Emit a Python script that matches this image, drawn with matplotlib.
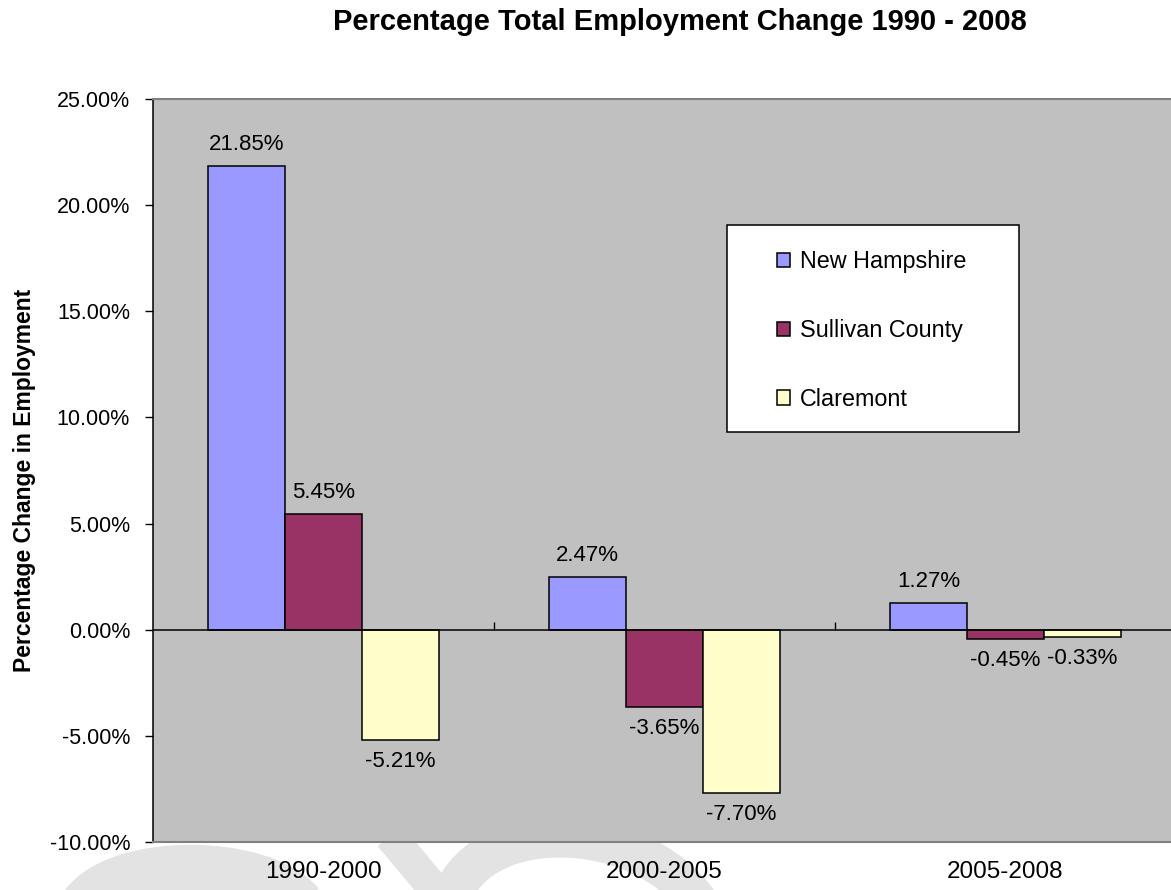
import matplotlib
matplotlib.use('Agg')
import matplotlib.pyplot as plt
import numpy as np
from matplotlib.patches import Rectangle, PathPatch
from matplotlib.path import Path
from matplotlib.ticker import FuncFormatter

plt.rcParams['font.family'] = ['Liberation Sans', 'DejaVu Sans']

# employment change by period, percent
periods = ['1990-2000', '2000-2005', '2005-2008']
new_hampshire = [21.85, 2.47, 1.27]
sullivan_county = [5.45, -3.65, -0.45]
claremont = [-5.21, -7.70, -0.33]
series_names = ['New Hampshire', 'Sullivan County', 'Claremont']
series_colors = ['#9999FF', '#993366', '#FFFFCC']

W, H = 1171, 890
fig = plt.figure(figsize=(W / 100, H / 100), dpi=100)


def px(x, y):
    # pixel position (from top-left) -> figure fraction
    return x / W, 1 - y / H


# faint watermark strokes behind the chart
wm_color = '#e3e3e3'
wm_paths = [
    ([(85, 905), (120, 858), (260, 858), (300, 905)], 50),
    ([(390, 836), (445, 902)], 32),
    ([(450, 905), (470, 815), (640, 815), (700, 905)], 40),
]
for pts, width in wm_paths:
    verts = [px(*p) for p in pts]
    codes = [Path.MOVETO] + ([Path.CURVE4] * 3 if len(pts) == 4 else [Path.LINETO])
    fig.add_artist(PathPatch(Path(verts, codes), transform=fig.transFigure,
                             fill=False, edgecolor=wm_color, lw=width * 0.72,
                             capstyle='butt', zorder=-5))

ax = fig.add_axes([153 / W, 48 / H, 1023 / W, 743 / H])
ax.set_facecolor('#C0C0C0')

x = np.arange(len(periods))
bw = 0.226
all_series = [new_hampshire, sullivan_county, claremont]
for i, (vals, name, col) in enumerate(zip(all_series, series_names, series_colors)):
    bars = ax.bar(x + (i - 1) * bw, vals, bw, color=col, edgecolor='black',
                  linewidth=1.1, label=name, zorder=3)
    ax.bar_label(bars, labels=['{:.2f}%'.format(v) for v in vals],
                 padding=8, fontsize=16, zorder=4)

ax.set_xlim(-0.5, 2.5)
ax.set_ylim(-10, 25)
ax.set_yticks(np.arange(-10, 26, 5))
ax.yaxis.set_major_formatter(FuncFormatter(lambda v, p: '{:.2f}%'.format(v)))
ax.set_xticks(x)
ax.set_xticklabels(periods)
ax.tick_params(axis='x', length=0, pad=14, labelsize=17.5)
ax.tick_params(axis='y', length=5.5, width=1, pad=11, labelsize=15.5, color='black')

# zero line with category boundary ticks
ax.axhline(0, color='black', lw=1.1, zorder=5)
ax.vlines([0.5, 1.5], 0, 0.38, color='black', lw=1, zorder=5)

for side in ['top', 'bottom', 'right']:
    ax.spines[side].set_color('#808080')
    ax.spines[side].set_linewidth(1.5)
ax.spines['left'].set_color('black')
ax.spines['left'].set_linewidth(1.1)

ax.set_ylabel('Percentage Change in Employment', fontsize=16.5, fontweight='bold')
ax.yaxis.set_label_coords(-0.114, 0.487)

fig.text(*px(680, 22), 'Percentage Total Employment Change 1990 - 2008',
         ha='center', va='center', fontsize=21, fontweight='bold')

# legend box
ax.add_patch(Rectangle((0.561, 0.5518), 0.2854, 0.2786, transform=ax.transAxes,
                       facecolor='white', edgecolor='black', lw=1.1, zorder=6))
leg = ax.legend(loc='upper left', bbox_to_anchor=(0.610, 0.797), frameon=False,
                fontsize=16.8, handlelength=0.55, handleheight=0.55,
                handletextpad=0.45, labelspacing=1.97, borderpad=0,
                borderaxespad=0)
leg.set_zorder(7)

fig.savefig('out.png', dpi=100)
